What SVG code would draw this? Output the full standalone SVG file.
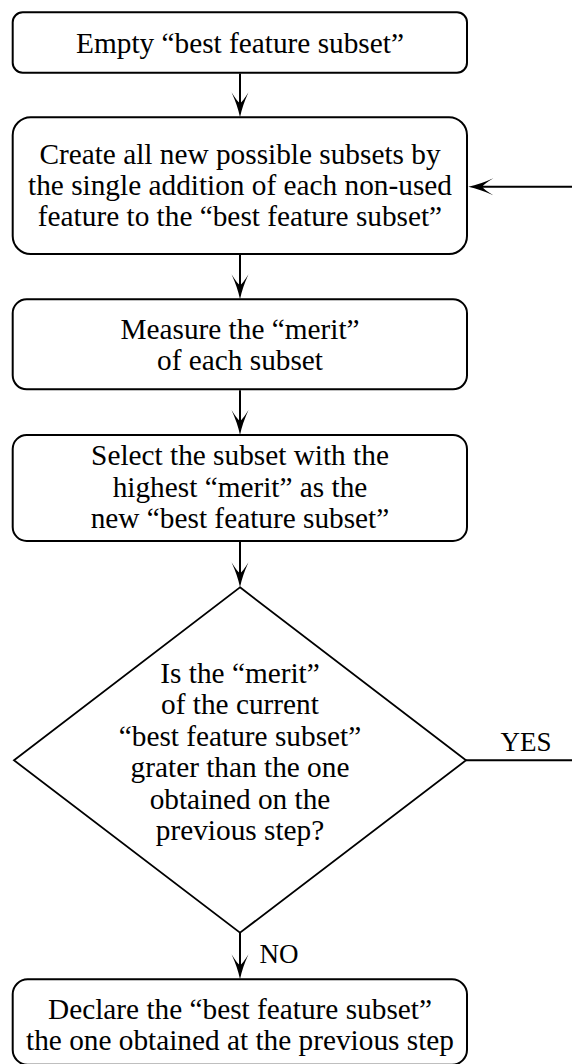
<svg xmlns="http://www.w3.org/2000/svg" width="572" height="1064" viewBox="0 0 572 1064">
  <style>
    .box { fill: #ffffff; stroke: #000000; stroke-width: 2; }
    .dia { fill: #ffffff; stroke: #000000; stroke-width: 1.8; }
    .t { font-family: "Liberation Serif", "Times New Roman", serif; font-size: 29.3px; fill: #000000; text-anchor: middle; }
    .lbl { font-family: "Liberation Serif", "Times New Roman", serif; font-size: 27px; fill: #000000; }
    .conn { fill: none; stroke: #000000; stroke-width: 2; marker-end: url(#arr); }
    .plain { fill: none; stroke: #000000; stroke-width: 2; }
  </style>
  <defs>
    <marker id="arr" markerUnits="userSpaceOnUse" orient="auto" refX="-12" refY="0" markerWidth="40" markerHeight="40" overflow="visible">
      <path d="M0,0 Q-12,-2.5 -25,-8.5 Q-16,-3 -14,0 Q-16,3 -25,8.5 Q-12,2.5 0,0 Z" fill="#000000" stroke="none"/>
    </marker>
  </defs>
  <rect x="0" y="0" width="572" height="1064" fill="#ffffff"/>

  <g id="connectors">
    <path class="conn" d="M240,73.5 V105.3"/>
    <path class="conn" d="M240,255 V287.3"/>
    <path class="conn" d="M240,390.3 V423"/>
    <path class="conn" d="M240,542 V575.3"/>
    <path class="conn" d="M240,932.7 V967.3"/>
    <path class="conn" d="M466,760.3 H590 V186.7 H480.3"/>
    <text class="lbl" x="526" y="750.5" text-anchor="middle">YES</text>
    <text class="lbl" x="259.5" y="963">NO</text>
  </g>

  <g id="start">
    <rect class="box" x="12.7" y="12.3" width="454.3" height="60.4" rx="10" ry="10"/>
    <text class="t" x="240" y="52.5">Empty “best feature subset”</text>
  </g>

  <g id="create">
    <rect class="box" x="12.7" y="117.3" width="454.3" height="136.7" rx="18" ry="18"/>
    <text class="t" x="240" y="163.5">Create all new possible subsets by</text>
    <text class="t" x="240" y="194.5">the single addition of each non-used</text>
    <text class="t" x="240" y="225.5">feature to the “best feature subset”</text>
  </g>

  <g id="measure">
    <rect class="box" x="12.7" y="299.3" width="454.3" height="90" rx="14" ry="14"/>
    <text class="t" x="240" y="338.5">Measure the “merit”</text>
    <text class="t" x="240" y="370">of each subset</text>
  </g>

  <g id="select">
    <rect class="box" x="12.7" y="435" width="454.3" height="106" rx="14" ry="14"/>
    <text class="t" x="240" y="465">Select the subset with the</text>
    <text class="t" x="240" y="496.5">highest “merit” as the</text>
    <text class="t" x="240" y="528">new “best feature subset”</text>
  </g>

  <g id="decision">
    <polygon class="dia" points="240,587.3 466,760.3 240,932.7 14,760.3"/>
    <text class="t" x="240" y="682.5">Is the “merit”</text>
    <text class="t" x="240" y="714">of the current</text>
    <text class="t" x="240" y="745.5">“best feature subset”</text>
    <text class="t" x="240" y="777">grater than the one</text>
    <text class="t" x="240" y="808.5">obtained on the</text>
    <text class="t" x="240" y="840">previous step?</text>
  </g>

  <g id="declare">
    <rect class="box" x="12.7" y="979.3" width="454.3" height="85.5" rx="15" ry="15"/>
    <text class="t" x="240" y="1018.5">Declare the “best feature subset”</text>
    <text class="t" x="240" y="1049.5">the one obtained at the previous step</text>
  </g>
</svg>
